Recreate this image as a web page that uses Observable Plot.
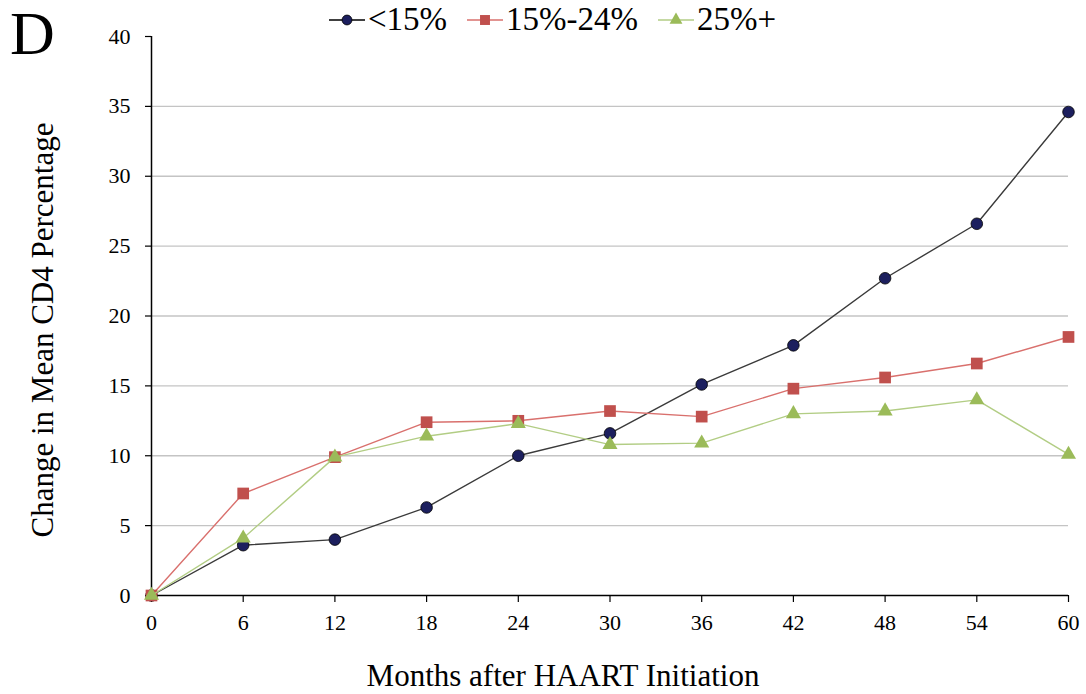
<!DOCTYPE html>
<html>
<head>
<meta charset="utf-8">
<script src="https://cdn.jsdelivr.net/npm/d3@7"></script>
<script src="https://cdn.jsdelivr.net/npm/@observablehq/plot@0.6"></script>
<style>
  html, body { margin: 0; padding: 0; background: #fff; }
  #wrap { position: relative; width: 1086px; height: 694px; font-family: "Liberation Serif", "Times New Roman", serif; }
  #panel { position: absolute; left: 10px; top: 2px; font-size: 62px; line-height: 1; color: #000; }
  #legend { position: absolute; left: 328px; top: 1px; display: flex; align-items: center; font-size: 33px; color: #000; }
  #legend .item { display: flex; align-items: center; margin-right: 19px; }
  #legend svg { display: block; margin-right: 2px; }
</style>
</head>
<body>
<div id="wrap">
  <div id="chart"></div>
  <div id="panel">D</div>
  <div id="legend"></div>
</div>
<script>
const months = [0, 6, 12, 18, 24, 30, 36, 42, 48, 54, 60];
const seriesNames = ["<15%", "15%-24%", "25%+"];
const valuesLt15 = [0, 3.6, 4.0, 6.3, 10.0, 11.6, 15.1, 17.9, 22.7, 26.6, 34.6];
const values15to24 = [0, 7.3, 9.9, 12.4, 12.5, 13.2, 12.8, 14.8, 15.6, 16.6, 18.5];
const values25plus = [0, 4.1, 9.9, 11.4, 12.3, 10.8, 10.9, 13.0, 13.2, 14.0, 10.1];
const yTicks = [0, 5, 10, 15, 20, 25, 30, 35, 40];
const gridTicks = [5, 10, 15, 20, 25, 30, 35];

const styles = {
  "<15%":    {line: "#3a3a3a", fill: "#1c1f5e", stroke: "#000000", symbol: "circle", r: 5.8, sw: 1.4},
  "15%-24%": {line: "#d9706d", fill: "#c0504d", stroke: "none", symbol: "square", r: 6.6, sw: 1.4},
  "25%+":    {line: "#b2cd84", fill: "#9bbb59", stroke: "none", symbol: "triangle", r: 5.6, sw: 1.4}
};

const allValues = [valuesLt15, values15to24, values25plus];
const rows = [];
seriesNames.forEach((s, si) => {
  months.forEach((m, i) => rows.push({series: s, month: m, value: allValues[si][i]}));
});

const seriesMarks = seriesNames.flatMap(s => {
  const st = styles[s];
  const d = rows.filter(r => r.series === s);
  return [
    Plot.line(d, {x: "month", y: "value", stroke: st.line, strokeWidth: st.sw}),
    Plot.dot(d, {x: "month", y: "value", symbol: () => st.symbol, r: st.r, fill: st.fill,
      stroke: st.stroke, strokeWidth: 0.8})
  ];
});

const chart = Plot.plot({
  width: 1086,
  height: 694,
  marginLeft: 151,
  marginRight: 18,
  marginTop: 36,
  marginBottom: 99,
  style: {fontFamily: "'Liberation Serif', 'Times New Roman', serif", fontSize: "22px", color: "#000", background: "#fff"},
  x: {domain: [0, 60]},
  y: {domain: [0, 40]},
  symbol: {type: "identity"},
  marks: [
    Plot.gridY(gridTicks, {stroke: "#c4c4c4", strokeOpacity: 1, strokeWidth: 1.4}),
    Plot.axisY(yTicks, {tickSize: 6, tickPadding: 15, label: null, stroke: "#000", strokeWidth: 1.2, fontSize: 22}),
    Plot.axisX(months, {tickSize: 7, tickPadding: 12, label: null, stroke: "#000", strokeWidth: 1.2, fontSize: 22}),
    Plot.ruleX([0], {stroke: "#000", strokeWidth: 1.5}),
    Plot.ruleY([0], {stroke: "#000", strokeWidth: 1.5}),
    ...seriesMarks,
    Plot.text(["Months after HAART Initiation"], {frameAnchor: "bottom", textAnchor: "middle", dy: 81, dx: -47, fontSize: 31, lineAnchor: "middle", fill: "#000"}),
    Plot.text(["Change in Mean CD4 Percentage"], {frameAnchor: "left", textAnchor: "middle", rotate: -90, dx: -108, dy: 14, fontSize: 31, lineAnchor: "middle", fill: "#000"})
  ]
});
document.getElementById("chart").appendChild(chart);

// Legend
const legend = d3.select("#legend");
seriesNames.forEach(s => {
  const st = styles[s];
  const item = legend.append("div").attr("class", "item");
  const svg = item.append("svg").attr("width", 38).attr("height", 24);
  svg.append("line").attr("x1", 1).attr("x2", 37).attr("y1", 12).attr("y2", 12)
    .attr("stroke", s === "<15%" ? "#000" : st.line).attr("stroke-width", 1.5);
  const sym = {circle: d3.symbolCircle, square: d3.symbolSquare, triangle: d3.symbolTriangle}[st.symbol];
  svg.append("path").attr("transform", "translate(19,12)")
    .attr("d", d3.symbol(sym, Math.PI * (st.r * 0.85) ** 2)())
    .attr("fill", st.fill).attr("stroke", st.stroke).attr("stroke-width", 0.8);
  item.append("span").text(s);
});
</script>
</body>
</html>
